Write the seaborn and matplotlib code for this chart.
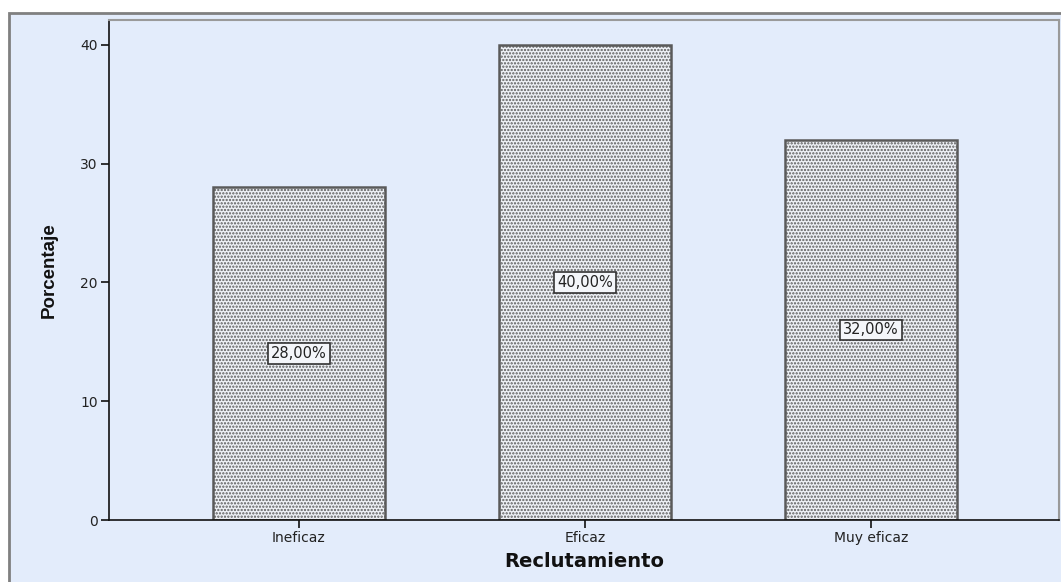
import matplotlib
matplotlib.use("Agg")
import matplotlib.pyplot as plt
import seaborn as sns
import pandas as pd
from matplotlib.patches import Rectangle

categories = ["Ineficaz", "Eficaz", "Muy eficaz"]
percentages = [28.0, 40.0, 32.0]
value_labels = ["28,00%", "40,00%", "32,00%"]
y_ticks = [0, 10, 20, 30, 40]

bg = "#e3ecfb"
sns.set_style("white")
plt.rcParams["font.family"] = ["DejaVu Sans"]
plt.rcParams["hatch.color"] = "#7d828c"
plt.rcParams["hatch.linewidth"] = 1.1

fig = plt.figure(figsize=(10.61, 5.82), dpi=100)
fig.patch.set_facecolor("white")

# outer chart frame, drawn beneath the axes
frame = Rectangle((9 / 1061, -0.05), 1.05, (582 - 13) / 582 + 0.05,
                  transform=fig.transFigure, facecolor=bg,
                  edgecolor="#808080", linewidth=2, zorder=-10)
fig.patches.append(frame)

ax = fig.add_axes([109 / 1061, 62 / 582, 950 / 1061, 500 / 582])
ax.set_zorder(1)
ax.set_facecolor(bg)

df = pd.DataFrame({"Reclutamiento": categories, "Porcentaje": percentages})
sns.barplot(data=df, x="Reclutamiento", y="Porcentaje", ax=ax,
            color="#eef1f6", width=0.6, edgecolor="#5a5a5a",
            linewidth=1.8, saturation=1)
for bar in ax.patches:
    bar.set_hatch(".....")

for i, (v, lab) in enumerate(zip(percentages, value_labels)):
    ax.text(i, v / 2, lab, ha="center", va="center", fontsize=10.5,
            color="#222222",
            bbox=dict(boxstyle="square,pad=0.2", facecolor="#f4f6fa",
                      edgecolor="#333333", linewidth=1.2))

ax.set_xlim(-0.664, 2.657)
ax.set_ylim(0, 42.1)
ax.set_yticks(y_ticks)
ax.set_yticklabels([str(t) for t in y_ticks])

for side in ["left", "bottom"]:
    ax.spines[side].set_color("#111111")
    ax.spines[side].set_linewidth(1.2)
for side in ["top", "right"]:
    ax.spines[side].set_visible(True)
    ax.spines[side].set_color("#9a9a9a")
    ax.spines[side].set_linewidth(1.5)

ax.tick_params(axis="both", which="both", direction="out", length=6,
               width=1.2, color="#111111", labelsize=10, labelcolor="#222222",
               bottom=True, left=True, pad=2)

ax.set_xlabel("Reclutamiento", fontsize=14, fontweight="bold", labelpad=5,
              color="#111111")
ax.set_ylabel("Porcentaje", fontsize=13.5, fontweight="bold", labelpad=16,
              family=["Liberation Sans Narrow", "Liberation Sans", "DejaVu Sans"],
              color="#111111")

fig.savefig("out.png", dpi=100, facecolor="white")
